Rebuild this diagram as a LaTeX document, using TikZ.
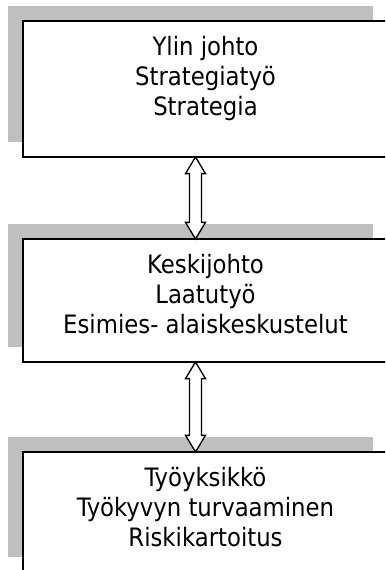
\documentclass[tikz,border=0pt]{standalone}
\usepackage{fontspec}
\setmainfont{DejaVu Sans Condensed}
\usetikzlibrary{positioning,calc,shadows,shapes.arrows}
\begin{document}
\begin{tikzpicture}[x=0.75pt,y=-0.75pt,
    box/.style={draw, line width=1.5pt, fill=white, minimum width=273.75pt,
      drop shadow={shadow xshift=-11.25pt, shadow yshift=11.25pt,
        fill=black!25, opacity=1}},
    txt/.style={align=center, inner sep=0pt, anchor=north,
      font=\fontsize{19}{22.5}\selectfont},
    dblarrow/.style={double arrow, draw, line width=1pt, fill=white, rotate=90,
      inner sep=0pt, text height=0pt, text depth=0pt, inner ysep=4pt,
      double arrow head extend=3pt, double arrow tip angle=62}]
    \useasboundingbox (0,0) rectangle (385,570);
    \clip (0,0) rectangle (385,570);
    \node[box, minimum height=102pt] (ylin) at (205.5,89) {};
    \node[box, minimum height=92.25pt] (keski) at (205.5,300.5) {};
    \node[box, minimum height=90pt] (yksikko) at (205.5,512) {};
    \node[txt, below=12pt of ylin.north] (ylintxt) {Ylin johto\\Strategiatyö\\Strategia};
    \node[txt, below=12pt of keski.north] (keskitxt) {Keskijohto\\Laatutyö\\Esimies- alaiskeskustelut};
    \node[txt, below=12pt of yksikko.north] (yksikkotxt) {Työyksikkö\\Työkyvyn turvaaminen\\Riskikartoitus};
    % nuolet hieman keskilinjan vasemmalla puolella
    \node[dblarrow, minimum height=61.5pt] (nuoli1) at ($(ylin.south)!0.5!(keski.north)+(-10,0)$) {};
    \node[dblarrow, minimum height=67.5pt] (nuoli2) at ($(keski.south)!0.5!(yksikko.north)+(-10,0)$) {};
\end{tikzpicture}
\end{document}
